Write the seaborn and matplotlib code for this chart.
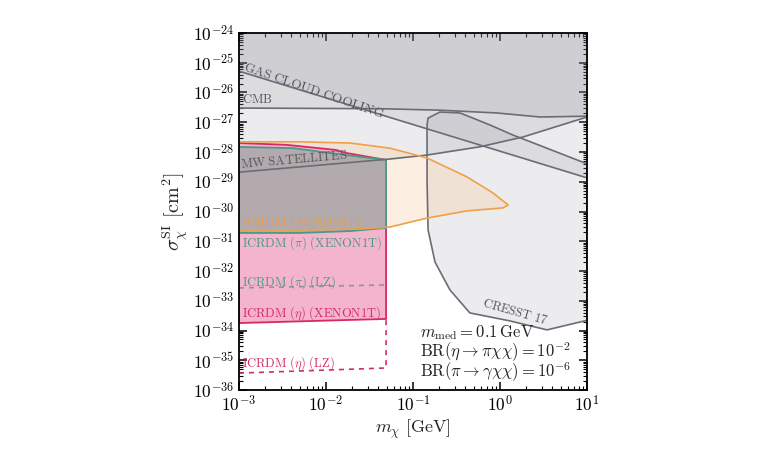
import matplotlib
matplotlib.use("Agg")
import matplotlib.pyplot as plt
import matplotlib.ticker as mticker
import numpy as np
import seaborn as sns

# boundaries (m_chi in GeV, sigma in cm^2)
gas_x = [1e-3, 1e1]
gas_y = [5.2e-26, 1.35e-29]

cmb_x = [1e-3, 0.042, 0.2, 0.92, 2.9, 1e1]
cmb_y = [3.0e-27, 2.85e-27, 2.55e-27, 2.05e-27, 1.5e-27, 1.6e-27]

mw_x = [1e-3, 0.054, 0.145, 0.59, 1.84, 1e1]
mw_y = [2.1e-29, 5.8e-29, 7.9e-29, 1.5e-28, 3.2e-28, 1.5e-27]

cresst_x = [0.145, 0.149, 0.204, 0.347, 0.767, 1.41, 1.84, 10.0, 10.0,
            3.47, 1.30, 0.45, 0.266, 0.179, 0.149, 0.145]
cresst_y = [8.1e-28, 1.38e-27, 2.2e-27, 2.05e-27, 8.1e-28, 3.7e-28, 2.75e-28,
            4.0e-29, 2.2e-34, 1.05e-34, 2.1e-34, 3.9e-34, 2.3e-33, 2.0e-32,
            2.4e-31, 1.15e-29]

icr_x = [1e-3, 5e-3, 0.019, 0.054, 0.145, 0.418, 0.83, 1.24,
         1.08, 0.418, 0.145, 0.054, 0.0266, 5e-3, 1e-3]
icr_y = [2.2e-28, 2.2e-28, 2.0e-28, 1.35e-28, 6.3e-29, 1.45e-29, 4.2e-30, 1.66e-30,
         1.32e-30, 1.05e-30, 6.0e-31, 3.0e-31, 2.6e-31, 2.4e-31, 2.4e-31]

eta_top_x = [1e-3, 0.0035, 0.013, 0.017, 0.049]
eta_top_y = [2.0e-28, 1.74e-28, 1.17e-28, 9.3e-29, 5.4e-29]
eta_bot_x = [1e-3, 0.049]
eta_bot_y = [1.78e-34, 2.45e-34]

pi_top_x = [1e-3, 0.0042, 0.017, 0.049]
pi_top_y = [1.48e-28, 1.35e-28, 7.9e-29, 5.4e-29]
pi_bot_x = [1e-3, 0.005, 0.019, 0.049]
pi_bot_y = [1.9e-31, 1.9e-31, 2.2e-31, 2.8e-31]

pi_lz_x = [1e-3, 0.049]
pi_lz_y = [2.7e-33, 3.4e-33]
eta_lz_x = [1e-3, 0.049, 0.049]
eta_lz_y = [3.7e-36, 5.5e-36, 2.45e-34]

GRAY_EDGE = "#6c6c76"
GRAY_FILL = "#85858f"
ORANGE = "#f0a048"
TEAL = "#4a9a8a"
CRIMSON = "#d62a68"

sns.set_theme(style="ticks")
plt.rcParams["mathtext.fontset"] = "cm"
plt.rcParams["font.family"] = ["DejaVu Serif"]

fig = plt.figure(figsize=(7.8, 4.5), dpi=100)
ax = fig.add_axes([0.3064, 0.1333, 0.4462, 0.7934])
ax.set_xscale("log")
ax.set_yscale("log")
ax.set_xlim(1e-3, 1e1)
ax.set_ylim(1e-36, 1e-24)

# gray exclusion regions, stacked with alpha
ax.fill_between(gas_x, gas_y, 1e-24, color=GRAY_FILL, alpha=0.15, lw=0, zorder=1)
ax.fill_between(cmb_x, cmb_y, 1e-24, color=GRAY_FILL, alpha=0.15, lw=0, zorder=1)
ax.fill_between(mw_x, mw_y, 1e-24, color=GRAY_FILL, alpha=0.15, lw=0, zorder=1)
ax.fill(cresst_x, cresst_y, facecolor=GRAY_FILL, alpha=0.15, lw=0, zorder=1)
ax.fill(cresst_x + cresst_x[:1], cresst_y + cresst_y[:1], fill=False,
        edgecolor=GRAY_EDGE, lw=1.2, zorder=5)

# ICRDM regions
ax.fill(icr_x, icr_y, facecolor="#f8c89a", alpha=0.3, lw=0, zorder=2)
eta_px = eta_top_x + eta_bot_x[::-1]
eta_py = eta_top_y + eta_bot_y[::-1]
ax.fill(eta_px, eta_py, facecolor="#f4b4cc", edgecolor=CRIMSON, lw=1.3, zorder=3)
pi_px = pi_top_x + pi_bot_x[::-1]
pi_py = pi_top_y + pi_bot_y[::-1]
ax.fill(pi_px, pi_py, facecolor="#b2aaac", edgecolor=TEAL, lw=1.3, zorder=4)

for lx, ly in [(gas_x, gas_y), (cmb_x, cmb_y), (mw_x, mw_y)]:
    sns.lineplot(x=lx, y=ly, ax=ax, color=GRAY_EDGE, lw=1.2, sort=False,
                 estimator=None, zorder=5)

ax.plot(icr_x + icr_x[:1], icr_y + icr_y[:1], color=ORANGE, lw=1.2, zorder=6)
sns.lineplot(x=pi_lz_x, y=pi_lz_y, ax=ax, color="#8a9794", lw=1.2,
             linestyle=(0, (3, 3)), sort=False, estimator=None, zorder=6)
sns.lineplot(x=eta_lz_x, y=eta_lz_y, ax=ax, color=CRIMSON, lw=1.2,
             linestyle=(0, (3, 3)), sort=False, estimator=None, zorder=6)

# labels
fs = 9
ax.text(1.07e-3, 4.6e-26, r"$\mathrm{GAS\ CLOUD\ COOLING}$", color="#555560",
        fontsize=9.5, rotation=-19, rotation_mode="anchor", ha="left", va="bottom", zorder=7)
ax.text(1.07e-3, 3.4e-27, r"$\mathrm{CMB}$", color="#555560", fontsize=fs,
        ha="left", va="bottom", zorder=7)
ax.text(1.07e-3, 2.3e-29, r"$\mathrm{MW\ SATELLITES}$", color="#555560", fontsize=fs,
        rotation=5, rotation_mode="anchor", ha="left", va="bottom", zorder=7)
ax.text(0.6, 5.2e-34, r"$\mathrm{CRESST\ 17}$", color="#555560", fontsize=fs,
        rotation=-16, rotation_mode="anchor", ha="left", va="bottom", zorder=7)
ax.text(1.07e-3, 4.5e-31, r"$\mathrm{ICRDM\ (XENON1T)}$", color="#f39a3a",
        fontsize=fs, ha="left", va="center", zorder=7)
ax.text(1.07e-3, 8.7e-32, r"$\mathrm{ICRDM\ (}\pi\mathrm{)\ (XENON1T)}$", color=TEAL,
        fontsize=fs, ha="left", va="center", zorder=7)
ax.text(1.07e-3, 4.3e-33, r"$\mathrm{ICRDM\ (}\pi\mathrm{)\ (LZ)}$", color=TEAL,
        fontsize=fs, ha="left", va="center", zorder=7)
ax.text(1.07e-3, 3.9e-34, r"$\mathrm{ICRDM\ (}\eta\mathrm{)\ (XENON1T)}$", color=CRIMSON,
        fontsize=fs, ha="left", va="center", zorder=7)
ax.text(1.07e-3, 8.1e-36, r"$\mathrm{ICRDM\ (}\eta\mathrm{)\ (LZ)}$", color=CRIMSON,
        fontsize=fs, ha="left", va="center", zorder=7)

ann = [r"$m_{\rm med} = 0.1\,\mathrm{GeV}$",
       r"$\mathrm{BR}(\eta \rightarrow \pi\chi\chi) = 10^{-2}$",
       r"$\mathrm{BR}(\pi \rightarrow \gamma\chi\chi) = 10^{-6}$"]
for txt, ty in zip(ann, [0.16, 0.106, 0.05]):
    ax.text(0.52, ty, txt, transform=ax.transAxes, fontsize=12, color="#222222",
            ha="left", va="center", zorder=7)

# axes styling
ax.set_xlabel(r"$m_\chi\ [\mathrm{GeV}]$", fontsize=13, labelpad=2)
ax.set_ylabel(r"$\sigma_\chi^{\rm SI}\ [\mathrm{cm}^2]$", fontsize=14.5, labelpad=2)
fmt = mticker.FuncFormatter(lambda v, p: r"$10^{%d}$" % round(np.log10(v)))
ax.xaxis.set_major_locator(mticker.LogLocator(base=10, numticks=20))
ax.yaxis.set_major_locator(mticker.LogLocator(base=10, numticks=20))
ax.xaxis.set_minor_locator(mticker.LogLocator(base=10, subs=np.arange(2, 10), numticks=100))
ax.yaxis.set_minor_locator(mticker.LogLocator(base=10, subs=np.arange(2, 10), numticks=100))
ax.xaxis.set_minor_formatter(mticker.NullFormatter())
ax.yaxis.set_minor_formatter(mticker.NullFormatter())
ax.xaxis.set_major_formatter(fmt)
ax.yaxis.set_major_formatter(fmt)
ax.tick_params(which="both", direction="in", top=True, right=True, colors="black",
               labelsize=12.5)
ax.tick_params(which="major", length=6, width=1.1)
ax.tick_params(which="minor", length=3, width=0.8)
for s in ax.spines.values():
    s.set_color("black")
    s.set_linewidth(1.3)
    s.set_zorder(8)

fig.savefig("out.png", dpi=100)
